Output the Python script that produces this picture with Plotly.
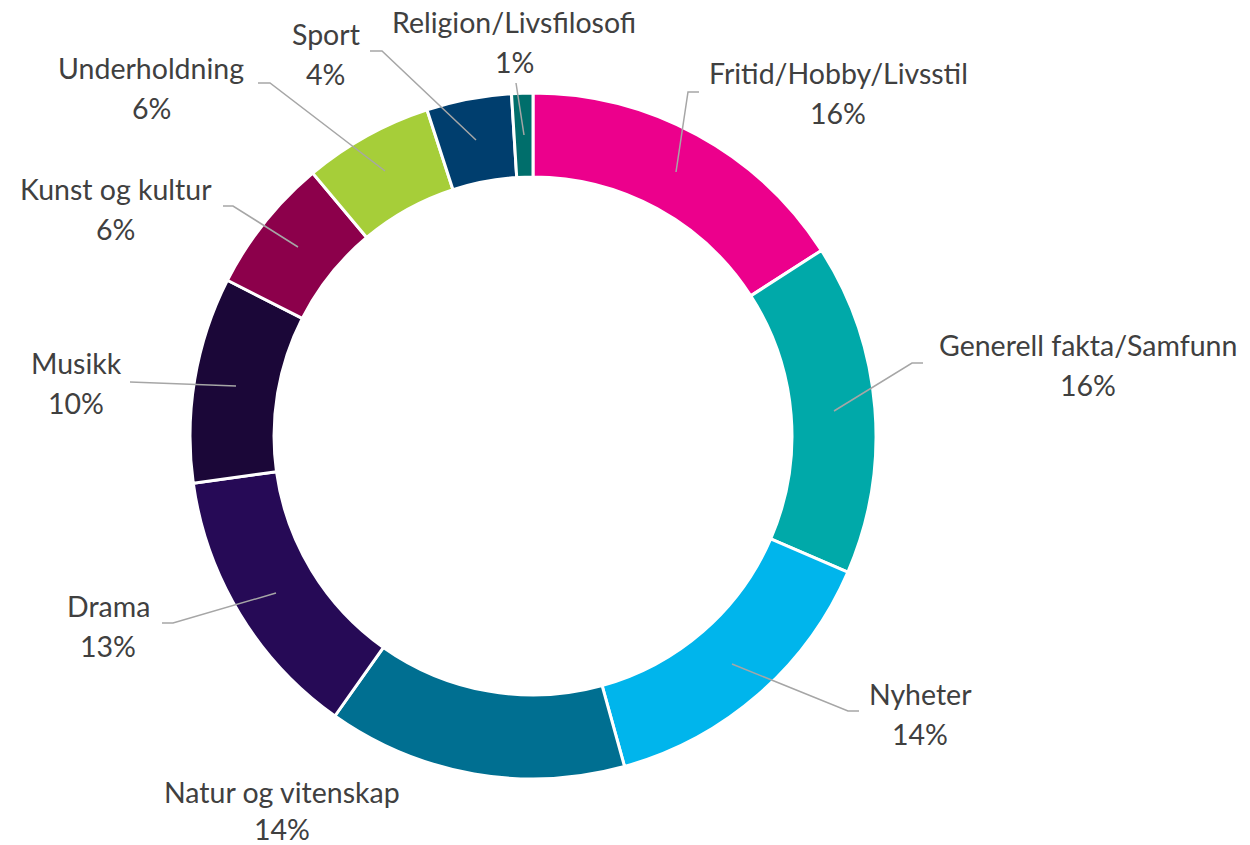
import plotly.graph_objects as go

# ---- data ----
categories = ["Fritid/Hobby/Livsstil", "Generell fakta/Samfunn", "Nyheter",
              "Natur og vitenskap", "Drama", "Musikk", "Kunst og kultur",
              "Underholdning", "Sport", "Religion/Livsfilosofi"]
values = [15.9, 15.6, 14.2, 14.1, 13.0, 9.7, 6.4, 6.1, 4.0, 1.0]
colors = ["#EC008C", "#00A9A9", "#00B5EC", "#006F91", "#260A56",
          "#1B0738", "#8C004B", "#A6CE39", "#003E6E", "#006E6B"]

# ---- layout helpers (pixel positions of labels & leader lines) ----
W, H = 1250, 845
label_pos = [(838, 73), (1088, 345), (920, 694), (282, 792), (108, 606),
             (76, 363), (116, 189), (151, 68), (326, 34), (514, 22)]
pct_dy = [40, 40, 40, 37, 40, 40, 40, 40, 40, 40]
leader_paths = [
    [(676, 172), (688, 92), (699, 92)],
    [(834, 411), (912, 363), (923, 363)],
    [(732, 664), (848, 711), (859, 711)],
    None,
    [(276, 593), (173, 623), (162, 623)],
    [(236, 386), (130, 382)],
    [(298, 247), (233, 206), (223, 206)],
    [(385, 171), (270, 83), (258, 83)],
    [(476, 140), (382, 51), (370, 51)],
    [(524, 135), (516, 83)],
]

def px(x):
    return x / W

def py(y):
    return 1 - y / H

total = sum(values)
pct_text = [f"{round(v / total * 100)}%" for v in values]

cx, cy, R = 533, 436, 343
fig = go.Figure(go.Pie(
    labels=categories, values=values, sort=False, direction="clockwise",
    rotation=0, hole=0.755, textinfo="none", hoverinfo="label+percent",
    marker=dict(colors=colors, line=dict(color="white", width=3)),
    domain=dict(x=[px(cx - R), px(cx + R)], y=[py(cy + R), py(cy - R)]),
    showlegend=False,
))

font = dict(family="Lato, Calibri, sans-serif", size=28.5, color="#404040")
annotations = []
for name, pct, (x, y), dy in zip(categories, pct_text, label_pos, pct_dy):
    annotations.append(dict(x=px(x), y=py(y), xref="paper", yref="paper",
                            text=name, showarrow=False, font=font,
                            xanchor="center", yanchor="middle"))
    annotations.append(dict(x=px(x), y=py(y + dy), xref="paper", yref="paper",
                            text=pct, showarrow=False, font=font,
                            xanchor="center", yanchor="middle"))

shapes = []
for path in leader_paths:
    if not path:
        continue
    d = "M " + " L ".join(f"{px(x)} {py(y)}" for x, y in path)
    shapes.append(dict(type="path", path=d, xref="paper", yref="paper",
                       line=dict(color="#A6A6A6", width=1.5)))

fig.update_layout(width=W, height=H, margin=dict(l=0, r=0, t=0, b=0),
                  paper_bgcolor="white", plot_bgcolor="white",
                  annotations=annotations, shapes=shapes)
fig.write_html("out.html", config={"displayModeBar": False},
               post_script="document.body.style.margin='0px';")
